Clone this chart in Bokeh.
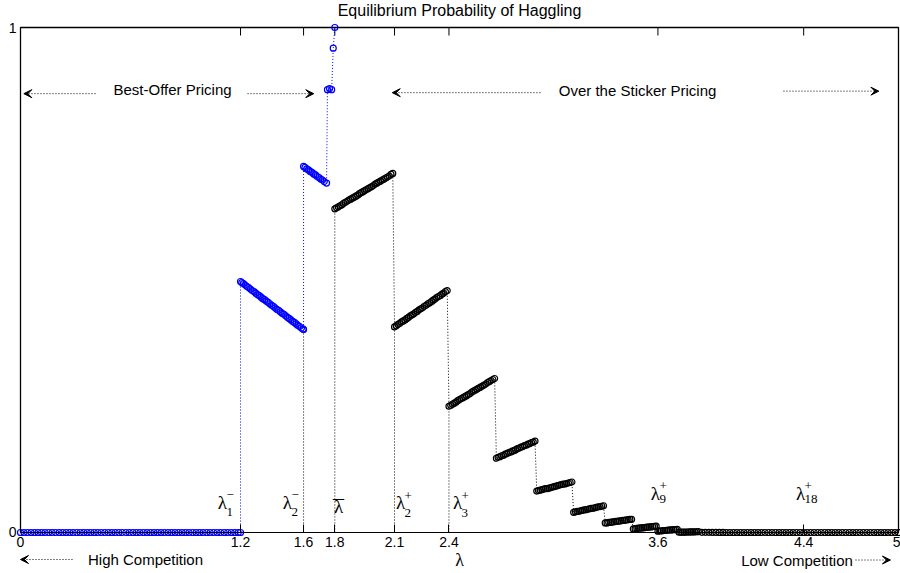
import math
from bokeh.plotting import figure
from bokeh.models import Range1d, FixedTicker, Label, Arrow, VeeHead
from bokeh.core.properties import value
from bokeh.embed import file_html
from bokeh.resources import INLINE

title_text = "Equilibrium Probability of Haggling"

# axis limits of the plotted box
x_lo, x_hi = 0.0, 5.0
y_lo, y_hi = 0.0, 1.0

# ---------------- blue series (best-offer pricing) ----------------
blue_x_zero = [0.00, 0.02, 0.04, 0.06, 0.08, 0.10, 0.12, 0.14, 0.16, 0.18,
               0.20, 0.22, 0.24, 0.26, 0.28, 0.30, 0.32, 0.34, 0.36, 0.38,
               0.40, 0.42, 0.44, 0.46, 0.48, 0.50, 0.52, 0.54, 0.56, 0.58,
               0.60, 0.62, 0.64, 0.66, 0.68, 0.70, 0.72, 0.74, 0.76, 0.78,
               0.80, 0.82, 0.84, 0.86, 0.88, 0.90, 0.92, 0.94, 0.96, 0.98,
               1.00, 1.02, 1.04, 1.06, 1.08, 1.10, 1.12, 1.14, 1.16, 1.18,
               1.20, 1.22, 1.24, 1.253]
blue_y_zero = [0, 0, 0, 0, 0, 0, 0, 0, 0, 0,
               0, 0, 0, 0, 0, 0, 0, 0, 0, 0,
               0, 0, 0, 0, 0, 0, 0, 0, 0, 0,
               0, 0, 0, 0, 0, 0, 0, 0, 0, 0,
               0, 0, 0, 0, 0, 0, 0, 0, 0, 0,
               0, 0, 0, 0, 0, 0, 0, 0, 0, 0,
               0, 0, 0, 0]
blue_x_seg1 = [1.253, 1.26, 1.27, 1.28, 1.29, 1.30, 1.31, 1.32, 1.33, 1.34,
               1.35, 1.36, 1.37, 1.38, 1.39, 1.40, 1.41, 1.42, 1.43, 1.44,
               1.45, 1.46, 1.47, 1.48, 1.49, 1.50, 1.51, 1.52, 1.53, 1.54,
               1.55, 1.56, 1.57, 1.58, 1.59, 1.60, 1.61, 1.612]
blue_y_seg1 = [0.497, 0.495, 0.493, 0.490, 0.487, 0.485, 0.482, 0.479, 0.477, 0.474,
               0.471, 0.469, 0.466, 0.463, 0.461, 0.458, 0.456, 0.453, 0.450, 0.448,
               0.445, 0.442, 0.440, 0.437, 0.434, 0.432, 0.429, 0.426, 0.424, 0.421,
               0.418, 0.416, 0.413, 0.410, 0.408, 0.405, 0.403, 0.402]
blue_x_seg2 = [1.612, 1.62, 1.63, 1.64, 1.65, 1.66, 1.67, 1.68, 1.69, 1.70,
               1.71, 1.72, 1.73, 1.743]
blue_y_seg2 = [0.725, 0.723, 0.720, 0.718, 0.715, 0.713, 0.710, 0.708, 0.705, 0.703,
               0.700, 0.698, 0.695, 0.692]
blue_x_top = [1.748, 1.760, 1.772, 1.781, 1.790]
blue_y_top = [0.877, 0.879, 0.877, 0.959, 1.000]

# ---------------- black series (over the sticker pricing) ----------------
black_x_seg1 = [1.79, 1.80, 1.81, 1.82, 1.83, 1.84, 1.85, 1.86, 1.87, 1.88,
                1.89, 1.90, 1.91, 1.92, 1.93, 1.94, 1.95, 1.96, 1.97, 1.98,
                1.99, 2.00, 2.01, 2.02, 2.03, 2.04, 2.05, 2.06, 2.07, 2.08,
                2.09, 2.10, 2.11, 2.12]
black_y_seg1 = [0.641, 0.643, 0.645, 0.647, 0.649, 0.652, 0.654, 0.656, 0.658, 0.660,
                0.662, 0.664, 0.666, 0.668, 0.671, 0.673, 0.675, 0.677, 0.679, 0.681,
                0.683, 0.685, 0.687, 0.690, 0.692, 0.694, 0.696, 0.698, 0.700, 0.702,
                0.704, 0.706, 0.709, 0.711]
black_x_seg2 = [2.13, 2.14, 2.15, 2.16, 2.17, 2.18, 2.19, 2.20, 2.21, 2.22,
                2.23, 2.24, 2.25, 2.26, 2.27, 2.28, 2.29, 2.30, 2.31, 2.32,
                2.33, 2.34, 2.35, 2.36, 2.37, 2.38, 2.39, 2.40, 2.41, 2.42,
                2.43]
black_y_seg2 = [0.407, 0.409, 0.412, 0.414, 0.417, 0.419, 0.421, 0.424, 0.426, 0.429,
                0.431, 0.433, 0.436, 0.438, 0.441, 0.443, 0.445, 0.448, 0.450, 0.453,
                0.455, 0.457, 0.460, 0.462, 0.465, 0.467, 0.469, 0.472, 0.474, 0.477,
                0.479]
black_x_seg3 = [2.44, 2.45, 2.46, 2.47, 2.48, 2.49, 2.50, 2.51, 2.52, 2.53,
                2.54, 2.55, 2.56, 2.57, 2.58, 2.59, 2.60, 2.61, 2.62, 2.63,
                2.64, 2.65, 2.66, 2.67, 2.68, 2.69, 2.70]
black_y_seg3 = [0.250, 0.252, 0.254, 0.256, 0.258, 0.261, 0.263, 0.265, 0.267, 0.269,
                0.271, 0.273, 0.275, 0.278, 0.280, 0.282, 0.284, 0.286, 0.288, 0.290,
                0.292, 0.294, 0.297, 0.299, 0.301, 0.303, 0.305]
black_x_seg4 = [2.71, 2.72, 2.73, 2.74, 2.75, 2.76, 2.77, 2.78, 2.79, 2.80,
                2.81, 2.82, 2.83, 2.84, 2.85, 2.86, 2.87, 2.88, 2.89, 2.90,
                2.91, 2.92, 2.93]
black_y_seg4 = [0.147, 0.149, 0.150, 0.152, 0.153, 0.155, 0.156, 0.158, 0.159, 0.161,
                0.162, 0.164, 0.166, 0.167, 0.169, 0.170, 0.172, 0.173, 0.175, 0.176,
                0.178, 0.179, 0.181]
black_x_seg5 = [2.94, 2.95, 2.96, 2.97, 2.98, 2.99, 3.00, 3.01, 3.02, 3.03,
                3.04, 3.05, 3.06, 3.07, 3.08, 3.09, 3.10, 3.11, 3.12, 3.13,
                3.14]
black_y_seg5 = [0.082, 0.083, 0.084, 0.085, 0.086, 0.087, 0.087, 0.088, 0.089, 0.090,
                0.091, 0.092, 0.093, 0.094, 0.095, 0.096, 0.096, 0.097, 0.098, 0.099,
                0.100]
black_x_seg6 = [3.15, 3.16, 3.17, 3.18, 3.19, 3.20, 3.21, 3.22, 3.23, 3.24,
                3.25, 3.26, 3.27, 3.28, 3.29, 3.30, 3.31, 3.32]
black_y_seg6 = [0.040, 0.041, 0.042, 0.042, 0.043, 0.044, 0.045, 0.045, 0.046, 0.047,
                0.048, 0.048, 0.049, 0.050, 0.051, 0.051, 0.052, 0.053]
black_x_seg7 = [3.33, 3.34, 3.35, 3.36, 3.37, 3.38, 3.39, 3.40, 3.41, 3.42,
                3.43, 3.44, 3.45, 3.46, 3.47, 3.48]
black_y_seg7 = [0.019, 0.019, 0.020, 0.020, 0.021, 0.021, 0.022, 0.022, 0.023, 0.023,
                0.024, 0.024, 0.025, 0.025, 0.026, 0.026]
black_x_seg8 = [3.49, 3.50, 3.51, 3.52, 3.53, 3.54, 3.55, 3.56, 3.57, 3.58,
                3.59, 3.60, 3.61, 3.62]
black_y_seg8 = [0.0070, 0.0075, 0.0080, 0.0085, 0.0090, 0.0090, 0.0095, 0.0100, 0.0105, 0.0110,
                0.0110, 0.0115, 0.0120, 0.0125]
black_x_seg9 = [3.63, 3.64, 3.65, 3.66, 3.67, 3.68, 3.69, 3.70, 3.71, 3.72,
                3.73, 3.74]
black_y_seg9 = [0.0026, 0.0030, 0.0033, 0.0036, 0.0040, 0.0043, 0.0046, 0.0050, 0.0053, 0.0056,
                0.0058, 0.0060]
black_x_seg10 = [3.75, 3.76, 3.77, 3.78, 3.79, 3.80, 3.81, 3.82, 3.83, 3.84,
                 3.85, 3.86]
black_y_seg10 = [0.0005, 0.0006, 0.0007, 0.0008, 0.0009, 0.0010, 0.0011, 0.0012, 0.0013, 0.0014,
                 0.0015, 0.0016]
black_x_tail = [3.88, 3.90, 3.92, 3.94, 3.96, 3.98, 4.00, 4.02, 4.04, 4.06,
                4.08, 4.10, 4.12, 4.14, 4.16, 4.18, 4.20, 4.22, 4.24, 4.26,
                4.28, 4.30, 4.32, 4.34, 4.36, 4.38, 4.40, 4.42, 4.44, 4.46,
                4.48, 4.50, 4.52, 4.54, 4.56, 4.58, 4.60, 4.62, 4.64, 4.66,
                4.68, 4.70, 4.72, 4.74, 4.76, 4.78, 4.80, 4.82, 4.84, 4.86,
                4.88, 4.90, 4.92, 4.94, 4.96, 4.98, 5.00]
black_y_tail = [0.0004, 0.0003, 0.0003, 0.0002, 0.0002, 0.0001, 0.0001, 0, 0, 0,
                0, 0, 0, 0, 0, 0, 0, 0, 0, 0,
                0, 0, 0, 0, 0, 0, 0, 0, 0, 0,
                0, 0, 0, 0, 0, 0, 0, 0, 0, 0,
                0, 0, 0, 0, 0, 0, 0, 0, 0, 0,
                0, 0, 0, 0, 0, 0, 0]

# threshold markers (dotted verticals from the axis)
mark_x = [1.612, 1.790, 2.130, 2.440]
mark_top = [0.402, 0.641, 0.407, 0.250]

# axis ticks (placed at the threshold values, labelled with rounded values)
tick_pos = [0.0, 1.253, 1.612, 1.790, 2.130, 2.440, 3.630, 4.460, 5.0]
tick_lbl = ["0", "1.2", "1.6", "1.8", "2.1", "2.4", "3.6", "4.4", "5"]
ytick_pos = [0, 1]
ytick_lbl = ["0", "1"]

# lambda labels
lam_x = [1.150, 1.520, 1.811, 2.164, 2.489, 3.616, 4.442]
lam_y = [0.060, 0.060, 0.052, 0.059, 0.059, 0.078, 0.078]
lam_sup = ["\u2212", "\u2212", "", "+", "+", "+", "+"]
lam_sub = ["1", "2", "", "2", "3", "9", "18"]
lam_bar = ["", "", "\u00af", "", "", "", ""]
lam_sub_drop = [10, 10, 0, 10, 10, 6, 6]

# region annotations
region_text = ["Best-Offer Pricing", "Over the Sticker Pricing", "High Competition", "Low Competition"]
region_x = [0.866, 3.514, 0.712, 4.422]
region_y = [0.877, 0.876, -0.0535, -0.0545]
arrow_x0 = [0.427, 1.293, 2.961, 4.345, 0.296, 4.755]
arrow_x1 = [0.019, 1.670, 2.117, 4.888, 0.000, 4.954]
arrow_y = [0.869, 0.869, 0.871, 0.874, -0.0535, -0.0545]
xlabel_text = "λ"
xlabel_x = 2.5
xlabel_y = -0.0535
title_x = 2.5
title_y = 1.034

SANS = "Liberation Sans"
SERIF = "Liberation Serif"

# the frame fills the whole canvas so that texts outside the box are drawn in it
p = figure(width=900, height=573,
           x_range=Range1d(-0.1139, 5.0114), y_range=Range1d(-0.0812, 1.0535),
           output_backend="svg", toolbar_location=None,
           min_border_left=0, min_border_right=0, min_border_top=0, min_border_bottom=0)
p.xgrid.visible = False
p.ygrid.visible = False
p.outline_line_color = None
p.background_fill_color = "white"
p.border_fill_color = "white"

xa = p.xaxis[0]
xa.fixed_location = 0
xa.bounds = (x_lo, x_hi)
xa.ticker = FixedTicker(ticks=tick_pos)
xa.major_label_overrides = dict(zip(tick_pos, tick_lbl))
xa.major_tick_in = 8
xa.major_tick_out = 0
xa.minor_tick_in = 0
xa.minor_tick_out = 0
xa.axis_line_color = "black"
xa.axis_line_width = 1
xa.major_tick_line_color = "black"
xa.major_label_text_font = SANS
xa.major_label_text_font_size = "14px"
xa.major_label_text_color = "black"
xa.major_label_standoff = 5

ya = p.yaxis[0]
ya.fixed_location = 0
ya.bounds = (y_lo, y_hi)
ya.ticker = FixedTicker(ticks=ytick_pos)
ya.major_label_overrides = dict(zip(ytick_pos, ytick_lbl))
ya.major_tick_in = 0
ya.major_tick_out = 0
ya.minor_tick_in = 0
ya.minor_tick_out = 0
ya.axis_line_color = None
ya.major_label_text_font = SANS
ya.major_label_text_font_size = "14px"
ya.major_label_text_color = "black"
ya.major_label_standoff = 4

# box: left, top and right edges
p.line(x=[x_lo, x_lo, x_hi, x_hi], y=[y_lo, y_hi, y_hi, y_lo], line_color="black", line_width=1.3)

# inward tick marks along the top edge
p.ray(x=tick_pos, y=[y_hi] * len(tick_pos), length=8, length_units="screen",
      angle=-math.pi / 2, line_color="black", line_width=1)

# threshold dotted verticals
p.segment(x0=mark_x, y0=[0] * len(mark_x), x1=mark_x, y1=mark_top,
          line_color="black", line_dash="1 2", line_width=1)

blue_x = blue_x_zero + blue_x_seg1 + blue_x_seg2 + blue_x_top
blue_y = blue_y_zero + blue_y_seg1 + blue_y_seg2 + blue_y_top
black_x = (black_x_seg1 + black_x_seg2 + black_x_seg3 + black_x_seg4 + black_x_seg5 +
           black_x_seg6 + black_x_seg7 + black_x_seg8 + black_x_seg9 + black_x_seg10 + black_x_tail)
black_y = (black_y_seg1 + black_y_seg2 + black_y_seg3 + black_y_seg4 + black_y_seg5 +
           black_y_seg6 + black_y_seg7 + black_y_seg8 + black_y_seg9 + black_y_seg10 + black_y_tail)

p.line(blue_x, blue_y, line_color="#0000ff", line_dash="1 2", line_width=1)
p.scatter(blue_x, blue_y, marker="circle", size=6, fill_color=None,
          line_color="#0000ff", line_width=1.2)
p.line(black_x, black_y, line_color="black", line_dash="1 2", line_width=1)
p.scatter(black_x, black_y, marker="circle", size=6, fill_color=None,
          line_color="black", line_width=1.2)

# title
p.add_layout(Label(x=title_x, y=title_y, text=title_text, text_align="center",
                   text_baseline="middle", text_font=SANS, text_font_size="16px",
                   text_color="black"))

# lambda labels: base symbol, superscript, subscript, bar
p.text(x=lam_x, y=lam_y, text=["λ"] * len(lam_x), text_font=value(SERIF), text_font_size="19px",
       text_align="center", text_baseline="middle", text_color="black")
for lx, ly, sup, sub, bar, drop in zip(lam_x, lam_y, lam_sup, lam_sub, lam_bar, lam_sub_drop):
    if sup:
        p.add_layout(Label(x=lx, y=ly, text=sup, text_font=SERIF, text_font_size="13px",
                           text_align="left", text_baseline="middle", text_color="black",
                           x_offset=4, y_offset=7))
    if sub:
        p.add_layout(Label(x=lx, y=ly, text=sub, text_font=SERIF, text_font_size="13px",
                           text_align="left", text_baseline="middle", text_color="black",
                           x_offset=4, y_offset=-drop))
    if bar:
        p.add_layout(Label(x=lx, y=ly, text=bar, text_font=SERIF, text_font_size="22px",
                           text_align="center", text_baseline="middle", text_color="black",
                           x_offset=0, y_offset=-1))

for t, x, y in zip(region_text, region_x, region_y):
    p.add_layout(Label(x=x, y=y, text=t, text_align="center", text_baseline="middle",
                       text_font=SANS, text_font_size="15px", text_color="black"))

for x0, x1, y in zip(arrow_x0, arrow_x1, arrow_y):
    p.add_layout(Arrow(x_start=x0, y_start=y, x_end=x1, y_end=y,
                       line_color="black", line_dash="1 2", line_width=1,
                       end=VeeHead(size=8, fill_color="black", line_color="black", line_width=1)))

p.add_layout(Label(x=xlabel_x, y=xlabel_y, text=xlabel_text, text_align="center",
                   text_baseline="middle", text_font=SERIF, text_font_size="18px",
                   text_color="black"))

open("out.html", "w").write(file_html(p, INLINE))
